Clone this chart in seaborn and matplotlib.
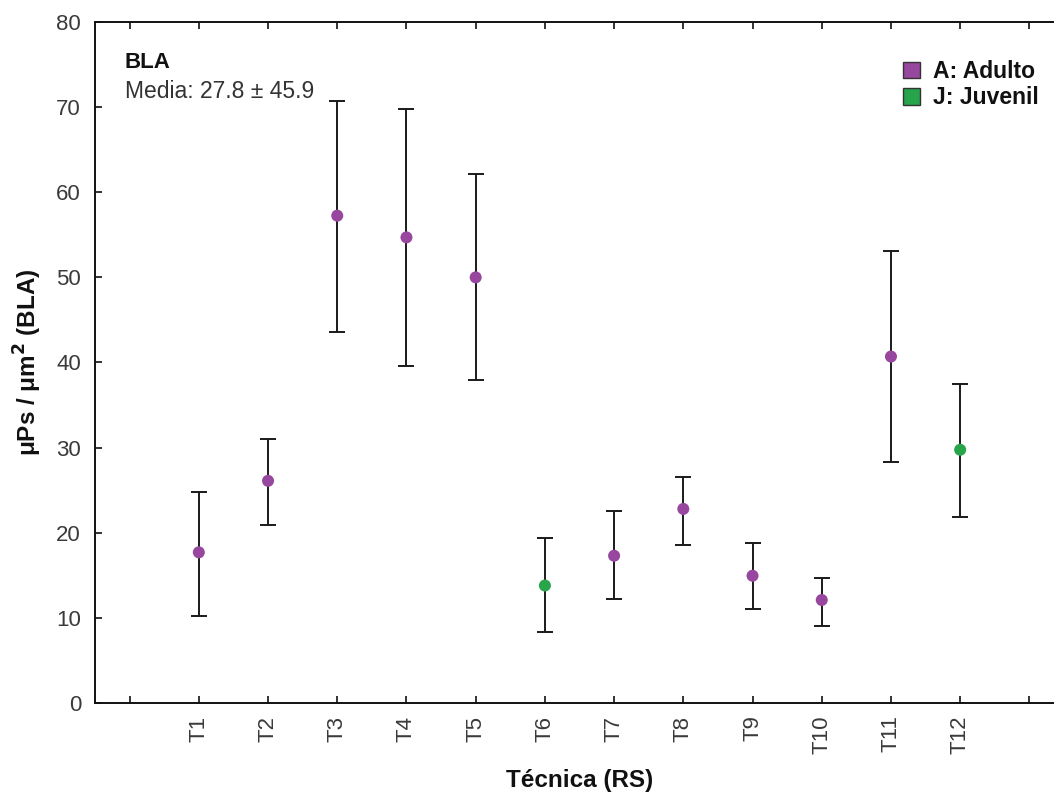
import matplotlib
matplotlib.use("Agg")
import matplotlib.pyplot as plt
import matplotlib.patches as mpatches
import seaborn as sns
import pandas as pd
import numpy as np

# ---- data ----
categories = ["T1", "T2", "T3", "T4", "T5", "T6", "T7", "T8", "T9", "T10", "T11", "T12"]
means = [17.7, 26.1, 57.25, 54.7, 50.0, 13.8, 17.3, 22.8, 14.95, 12.1, 40.7, 29.75]
upper = [24.8, 31.05, 70.75, 69.8, 62.2, 19.35, 22.5, 26.55, 18.75, 14.7, 53.1, 37.5]
lower = [10.2, 20.9, 43.55, 39.6, 37.9, 8.3, 12.2, 18.6, 11.0, 9.05, 28.35, 21.9]
groups = ["A", "A", "A", "A", "A", "J", "A", "A", "A", "A", "A", "J"]
group_labels = {"A": "A: Adulto", "J": "J: Juvenil"}
y_ticks = [0, 10, 20, 30, 40, 50, 60, 70, 80]

palette = {"A": "#98479f", "J": "#28a44a"}

sns.set_theme(style="white")
plt.rcParams['font.family'] = ['Liberation Sans', 'DejaVu Sans']

df = pd.DataFrame({
    "pos": np.arange(1, len(categories) + 1),
    "cat": categories,
    "mean": means,
    "lo": lower,
    "hi": upper,
    "grp": groups,
})

fig = plt.figure(figsize=(10.54, 7.96), dpi=100)
ax = fig.add_axes([95 / 1054, 93 / 796, 969 / 1054, 681 / 796])

# error bars
ax.errorbar(df["pos"], df["mean"],
            yerr=[df["mean"] - df["lo"], df["hi"] - df["mean"]],
            fmt="none", ecolor="#1a1a1a", elinewidth=1.4, capsize=5.5,
            capthick=1.4, zorder=2)

sns.scatterplot(data=df, x="pos", y="mean", hue="grp", palette=palette,
                s=75, marker="o", edgecolor="none", legend=False, ax=ax, zorder=3)

ax.set_xlim(-0.5, 13.5)
ax.set_ylim(0, 80)
ax.set_xticks(range(0, 14))
ax.set_xticklabels([""] + categories + [""], rotation=90, fontsize=16, color="#3a3a3a")
ax.set_yticks(y_ticks)
ax.set_yticklabels([str(v) for v in y_ticks], fontsize=16, color="#3a3a3a")
ax.tick_params(axis="both", direction="in", length=5, width=1.2, color="#111111",
               top=True, bottom=True, left=True, right=False)
ax.tick_params(axis="y", pad=10)
ax.tick_params(axis="x", pad=9)

for side in ["left", "bottom", "top", "right"]:
    ax.spines[side].set_color("#111111")
    ax.spines[side].set_linewidth(1.4)

ax.set_xlabel("Técnica (RS)", fontsize=17.5, fontweight="bold", labelpad=11, color="#111111")
ax.set_ylabel("μPs / μm$^\\mathbf{2}$ (BLA)", fontsize=17.5, fontweight="bold", labelpad=9, color="#111111")

# annotation
ax.text(125 / 1054, 733 / 796, "BLA", transform=fig.transFigure, fontsize=16,
        fontweight="bold", color="#111111", va="center")
ax.text(125 / 1054, 705 / 796, "Media: 27.8 ± 45.9", transform=fig.transFigure,
        fontsize=16.5, color="#333333", va="center")

# legend
handles = [mpatches.Patch(facecolor=palette[k], edgecolor="#333333", linewidth=1.0,
                          label=group_labels[k]) for k in ["A", "J"]]
leg = fig.legend(handles=handles, loc="upper left", bbox_to_anchor=(887 / 1054, 752 / 796),
                 frameon=False, handlelength=0.75, handleheight=0.75, handletextpad=0.55,
                 labelspacing=0.15, borderpad=0.2,
                 prop={"size": 16.5, "weight": "bold"})
for t in leg.get_texts():
    t.set_color("#111111")

fig.savefig("out.png", dpi=100)
